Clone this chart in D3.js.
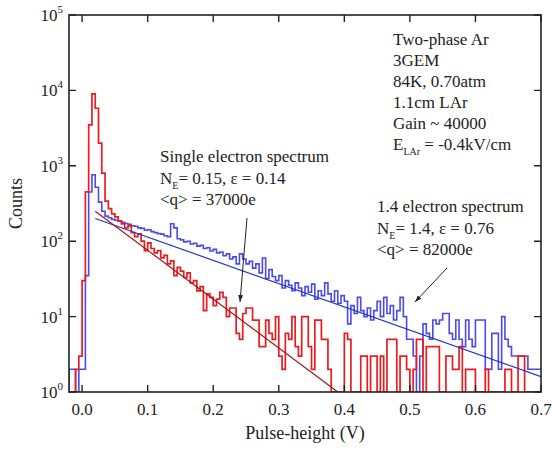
<!DOCTYPE html>
<html>
<head>
<meta charset="utf-8">
<script src="https://cdn.jsdelivr.net/npm/d3@7"></script>
<style>
  body { margin: 0; background: #fff; }
  text { font-family: "Liberation Serif", "Times New Roman", serif; fill: #222; }
</style>
</head>
<body>
<div id="vis-container"></div>
<script>
// histogram bins: start at -0.02 V, width 0.005 V
var binStart = -0.02
var binWidth = 0.005

var blueCounts = [2, 2, 1, 2, 2, 35, 450, 760, 520, 330,
  250, 215, 205, 195, 190, 186, 178, 172, 168, 160,
  158, 150, 148, 140, 142, 134, 130, 126, 124, 118,
  115, 170, 150, 108, 104, 98, 100, 92, 94, 86,
  88, 80, 82, 74, 78, 70, 72, 64, 68, 58,
  62, 50, 68, 58, 50, 54, 44, 50, 38, 60,
  32, 42, 34, 30, 35, 24, 30, 26, 22, 28,
  24, 19, 25, 21, 27, 17, 22, 19, 28, 20,
  16, 22, 15, 19, 16, 8, 14, 11, 18, 12,
  10, 13, 9, 12, 16, 10, 18, 11, 14, 9,
  12, 18, 10, 5, 5, 3, 1, 3, 8, 6,
  5, 9, 8, 9, 11, 11, 6, 5, 9, 5,
  4, 9, 5, 4, 9, 9, 9, 2, 2, 6,
  6, 2, 10, 5, 4, 3, 3, 3, 3, 3,
  2, 2, 2, 2]

var redCounts = [1, 1, 2, 3, 30, 450, 3500, 9000, 5800, 2000,
  800, 340, 270, 230, 210, 185, 170, 150, 160, 130,
  115, 125, 100, 75, 95, 80, 70, 75, 60, 65,
  50, 55, 35, 45, 40, 33, 38, 28, 30, 22,
  25, 12, 20, 18, 14, 17, 21, 18, 10, 13,
  13, 6, 5, 11, 13, 13, 9, 9, 4, 4,
  9, 6, 5, 10, 3, 2, 6, 5, 10, 4,
  3, 10, 10, 4, 2, 9, 9, 5, 5, 2,
  1, 1, 1, 1, 6, 5, 1, 1, 1, 3,
  3, 1, 3, 3, 1, 3, 1, 5, 5, 5,
  1, 3, 3, 2, 1, 2, 5, 5, 1, 4,
  4, 4, 4, 1, 1, 3, 3, 2, 2, 4,
  1, 2, 2, 2, 1, 1, 1, 2, 1, 1,
  1, 1, 1, 2, 2, 1, 1, 3, 3, 1,
  1, 1, 1, 1]

// exponential fits, [V, counts]
var redFit = [[0.02, 250], [0.39, 1]]
var blueFit = [[0.02, 200], [0.70, 1.6]]

var xTicks = [0.0, 0.1, 0.2, 0.3, 0.4, 0.5, 0.6, 0.7]
var yTicks = [1, 10, 100, 1000, 10000, 100000]

var infoLines = ['Two-phase Ar', '3GEM', '84K, 0.70atm', '1.1cm LAr', 'Gain ~ 40000']

var W = 552, H = 450
var plot = { left: 69, right: 541, top: 15, bottom: 392 }

var xScale = d3.scaleLinear().domain([-0.02, 0.7]).range([plot.left, plot.right])
var yScale = d3.scaleLog().domain([1, 100000]).range([plot.bottom, plot.top])

var svg = d3.select('#vis-container').append('svg')
  .attr('width', W)
  .attr('height', H)

svg.append('defs').append('clipPath').attr('id', 'clip')
  .append('rect')
  .attr('x', plot.left).attr('y', plot.top)
  .attr('width', plot.right - plot.left).attr('height', plot.bottom - plot.top)

svg.append('defs').append('marker')
  .attr('id', 'arrow')
  .attr('viewBox', '0 0 10 10')
  .attr('refX', 10).attr('refY', 5)
  .attr('markerWidth', 7).attr('markerHeight', 7)
  .attr('orient', 'auto')
  .append('path')
  .attr('d', 'M0,1.5 L10,5 L0,8.5 z')
  .attr('fill', '#222')

function steps(counts) {
  var pts = counts.map(function (c, i) { return [binStart + i * binWidth, Math.max(c, 1)] })
  pts.unshift([binStart, 1])
  pts.push([binStart + counts.length * binWidth, counts[counts.length - 1]])
  return pts
}

var stepLine = d3.line()
  .x(function (d) { return xScale(d[0]) })
  .y(function (d) { return yScale(d[1]) })
  .curve(d3.curveStepAfter)

var straight = d3.line()
  .x(function (d) { return xScale(d[0]) })
  .y(function (d) { return yScale(d[1]) })

var g = svg.append('g').attr('clip-path', 'url(#clip)')

g.append('path')
  .attr('d', stepLine(steps(blueCounts)))
  .attr('fill', 'none')
  .attr('stroke', '#4b4be8')
  .attr('stroke-width', 1.6)

g.append('path')
  .attr('d', stepLine(steps(redCounts)))
  .attr('fill', 'none')
  .attr('stroke', '#ea1c20')
  .attr('stroke-width', 1.7)

g.append('path')
  .attr('d', straight(blueFit))
  .attr('fill', 'none')
  .attr('stroke', '#2236c4')
  .attr('stroke-width', 1.2)

g.append('path')
  .attr('d', straight(redFit))
  .attr('fill', 'none')
  .attr('stroke', '#a01818')
  .attr('stroke-width', 1.2)

// frame and ticks
svg.append('rect')
  .attr('x', plot.left).attr('y', plot.top)
  .attr('width', plot.right - plot.left).attr('height', plot.bottom - plot.top)
  .attr('fill', 'none')
  .attr('stroke', '#222')
  .attr('stroke-width', 1.6)

var tickLen = 7
svg.selectAll('.xtick')
  .data(xTicks)
  .enter()
  .append('path')
  .attr('class', 'xtick')
  .attr('d', function (d) {
    var x = xScale(d)
    return 'M' + x + ',' + plot.bottom + 'v' + (-tickLen) + 'M' + x + ',' + plot.top + 'v' + tickLen
  })
  .attr('stroke', '#222')
  .attr('stroke-width', 1.4)

svg.selectAll('.ytick')
  .data(yTicks)
  .enter()
  .append('path')
  .attr('class', 'ytick')
  .attr('d', function (d) {
    var y = yScale(d)
    return 'M' + plot.left + ',' + y + 'h' + tickLen + 'M' + plot.right + ',' + y + 'h' + (-tickLen)
  })
  .attr('stroke', '#222')
  .attr('stroke-width', 1.4)

svg.selectAll('.xlabel')
  .data(xTicks)
  .enter()
  .append('text')
  .attr('class', 'xlabel')
  .attr('x', function (d) { return xScale(d) })
  .attr('y', 415)
  .attr('text-anchor', 'middle')
  .style('font-size', '17px')
  .text(function (d) { return d3.format('.1f')(d) })

var ylab = svg.selectAll('.ylabel')
  .data(yTicks)
  .enter()
  .append('text')
  .attr('class', 'ylabel')
  .attr('x', 63)
  .attr('y', function (d) { return yScale(d) + 6 })
  .attr('text-anchor', 'end')
  .style('font-size', '17px')
ylab.append('tspan').text('10')
ylab.append('tspan')
  .attr('dy', -8)
  .style('font-size', '11px')
  .text(function (d) { return Math.round(Math.log10(d)) })

svg.append('text')
  .attr('transform', 'translate(22,' + ((plot.top + plot.bottom) / 2) + ') rotate(-90)')
  .attr('text-anchor', 'middle')
  .style('font-size', '18px')
  .text('Counts')

svg.append('text')
  .attr('x', (plot.left + plot.right) / 2)
  .attr('y', 439)
  .attr('text-anchor', 'middle')
  .style('font-size', '18px')
  .text('Pulse-height (V)')

// info block
svg.selectAll('.info')
  .data(infoLines)
  .enter()
  .append('text')
  .attr('class', 'info')
  .attr('x', 393)
  .attr('y', function (d, i) { return 45 + i * 21 })
  .style('font-size', '17px')
  .text(function (d) { return d })

var eField = svg.append('text').attr('x', 393).attr('y', 150).style('font-size', '17px')
eField.append('tspan').text('E')
eField.append('tspan').attr('dy', 5).style('font-size', '10px').text('LAr')
eField.append('tspan').attr('dy', -5).text(' = -0.4kV/cm')

// annotations
function annotate(x, y, title, ne, eps, q) {
  svg.append('text').attr('x', x).attr('y', y).style('font-size', '17px').text(title)
  var t = svg.append('text').attr('x', x).attr('y', y + 22).style('font-size', '17px')
  t.append('tspan').text('N')
  t.append('tspan').attr('dy', 5).style('font-size', '10px').text('E')
  t.append('tspan').attr('dy', -5).text('= ' + ne + ', \u03b5 = ' + eps)
  svg.append('text').attr('x', x).attr('y', y + 43).style('font-size', '17px').text('<q> = ' + q)
}
annotate(160, 162, 'Single electron spectrum', '0.15', '0.14', '37000e')
annotate(377, 212, '1.4 electron spectrum', '1.4', '0.76', '82000e')

svg.append('line')
  .attr('x1', 247).attr('y1', 218).attr('x2', 240).attr('y2', 302)
  .attr('stroke', '#222').attr('stroke-width', 1)
  .attr('marker-end', 'url(#arrow)')

svg.append('line')
  .attr('x1', 447).attr('y1', 268).attr('x2', 415).attr('y2', 302)
  .attr('stroke', '#222').attr('stroke-width', 1)
  .attr('marker-end', 'url(#arrow)')
</script>
</body>
</html>
